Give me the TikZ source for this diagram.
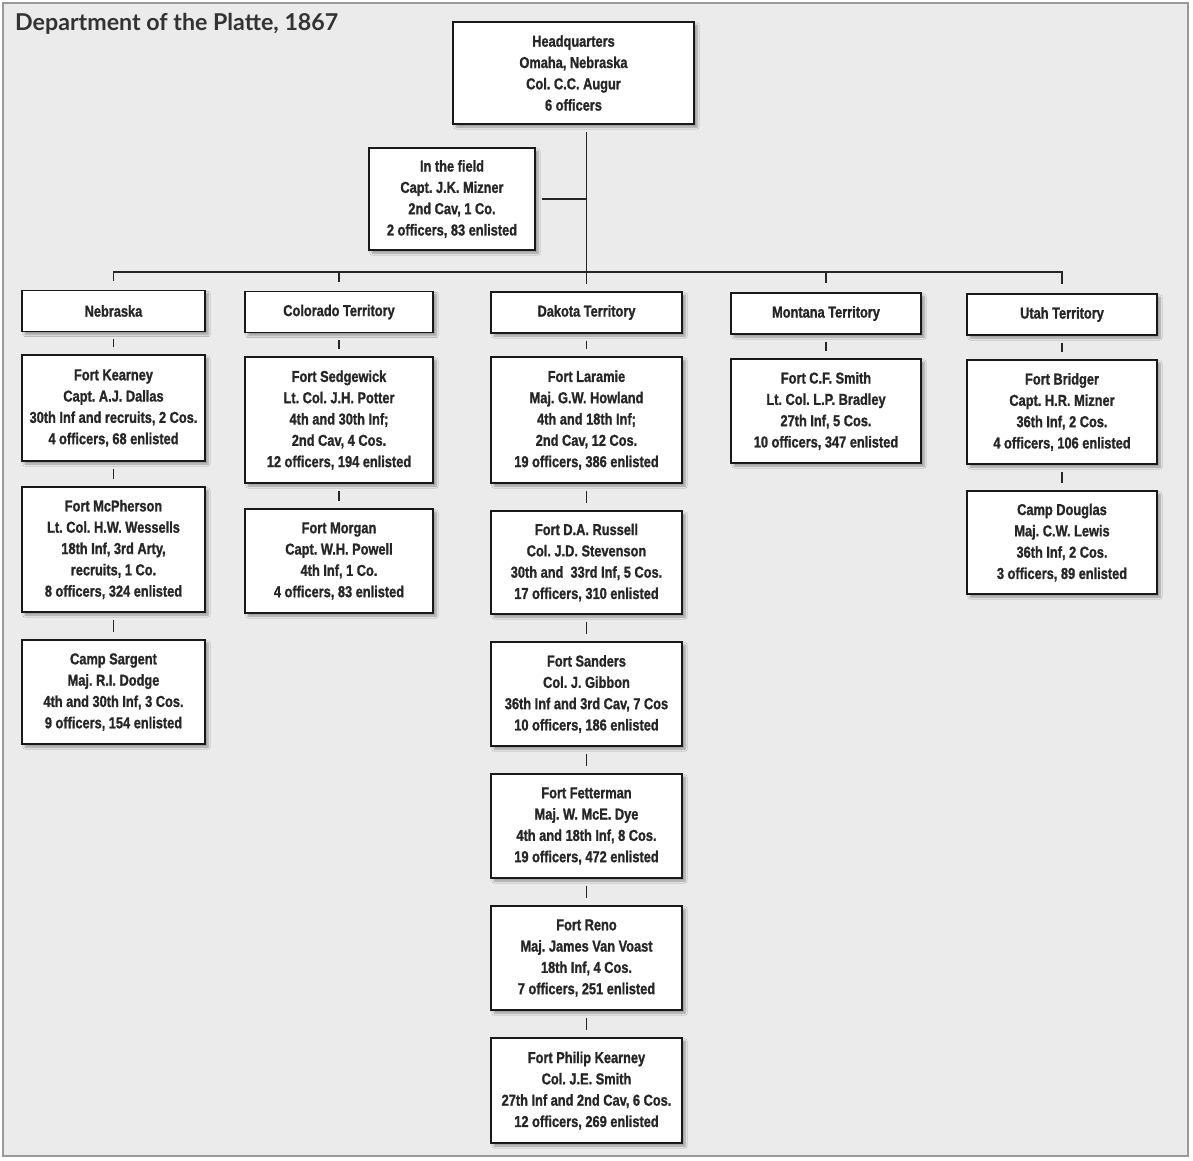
\documentclass[tikz,border=0pt]{standalone}
\usepackage{fontspec}
\setmainfont{Liberation Sans}[FakeStretch=0.8]
\newfontfamily\boxface{Liberation Sans}[FakeStretch=0.81, FakeBold=1.2, UprightFont=* Bold]
\newfontfamily\titlefont{Lato}
\usetikzlibrary{shadows.blur}
\newcommand\boxfont{\boxface\fontsize{15.8}{21.3}\selectfont}
\frenchspacing

\begin{document}
\begin{tikzpicture}[x=1pt,y=-1pt,
  unit/.style={draw=black!90, line width=1.7pt, fill=white, align=center,
    text=black!85, font=\boxfont, inner sep=0pt,
    blur shadow={shadow xshift=3pt, shadow yshift=-3pt, shadow blur steps=6, shadow opacity=35}},
  conn/.style={draw=black!85, line width=1.8pt},
  tick/.style={conn, shorten <=7pt, shorten >=7pt}]

% page and panel
\useasboundingbox (0,0) rectangle (1193,1160);
\fill[white] (0,0) rectangle (1193,1160);
\draw[fill=black!8, draw=black!40, line width=1.5pt] (3,3) rectangle (1188,1156);

\node[anchor=base west, inner sep=0pt, font=\titlefont\bfseries\fontsize{23.2}{27}\selectfont, text=black!80]
  (title) at (15,30) {Department of the Platte, 1867};

% headquarters and field command
\node[unit, minimum width=241pt, minimum height=102pt] (hq) at (573.5,73)
  {Headquarters\\Omaha, Nebraska\\Col. C.C. Augur\\6 officers};
\node[unit, minimum width=166pt, minimum height=102pt] (field) at (452,199)
  {In the field\\Capt. J.K. Mizner\\2nd Cav, 1 Co.\\2 officers, 83 enlisted};

% territories
\node[unit, minimum width=183pt, minimum height=41pt] (neb) at (113.5,311) {Nebraska};
\node[unit, minimum width=188pt, minimum height=41pt] (col) at (339,312) {Colorado Territory};
\node[unit, minimum width=191pt, minimum height=41pt] (dak) at (586.5,312.5) {Dakota Territory};
\node[unit, minimum width=190pt, minimum height=41pt] (mon) at (826,313.5) {Montana Territory};
\node[unit, minimum width=190pt, minimum height=41pt] (uta) at (1062,314.5) {Utah Territory};

% Nebraska posts
\node[unit, minimum width=183pt, minimum height=106pt] (kea) at (113.5,408)
  {Fort Kearney\\Capt. A.J. Dallas\\30th Inf and recruits, 2 Cos.\\4 officers, 68 enlisted};
\node[unit, minimum width=183pt, minimum height=125pt] (mcp) at (113.5,549.5)
  {Fort McPherson\\Lt. Col. H.W. Wessells\\18th Inf, 3rd Arty,\\recruits, 1 Co.\\8 officers, 324 enlisted};
\node[unit, minimum width=183pt, minimum height=104pt] (sar) at (113.5,692)
  {Camp Sargent\\Maj. R.I. Dodge\\4th and 30th Inf, 3 Cos.\\9 officers, 154 enlisted};

% Colorado posts
\node[unit, minimum width=188pt, minimum height=126pt] (sed) at (339,420)
  {Fort Sedgewick\\Lt. Col. J.H. Potter\\4th and 30th Inf;\\2nd Cav, 4 Cos.\\12 officers, 194 enlisted};
\node[unit, minimum width=188pt, minimum height=104pt] (mor) at (339,561)
  {Fort Morgan\\Capt. W.H. Powell\\4th Inf, 1 Co.\\4 officers, 83 enlisted};

% Dakota posts
\node[unit, minimum width=191pt, minimum height=126pt] (lar) at (586.5,420)
  {Fort Laramie\\Maj. G.W. Howland\\4th and 18th Inf;\\2nd Cav, 12 Cos.\\19 officers, 386 enlisted};
\node[unit, minimum width=191pt, minimum height=103pt] (rus) at (586.5,562.5)
  {Fort D.A. Russell\\Col. J.D. Stevenson\\30th and~~33rd Inf, 5 Cos.\\17 officers, 310 enlisted};
\node[unit, minimum width=191pt, minimum height=104pt] (san) at (586.5,694)
  {Fort Sanders\\Col. J. Gibbon\\36th Inf and 3rd Cav, 7 Cos\\10 officers, 186 enlisted};
\node[unit, minimum width=191pt, minimum height=104pt] (fet) at (586.5,826)
  {Fort Fetterman\\Maj. W. McE. Dye\\4th and 18th Inf, 8 Cos.\\19 officers, 472 enlisted};
\node[unit, minimum width=191pt, minimum height=104pt] (ren) at (586.5,958)
  {Fort Reno\\Maj. James Van Voast\\18th Inf, 4 Cos.\\7 officers, 251 enlisted};
\node[unit, minimum width=191pt, minimum height=105pt] (phk) at (586.5,1090.5)
  {Fort Philip Kearney\\Col. J.E. Smith\\27th Inf and 2nd Cav, 6 Cos.\\12 officers, 269 enlisted};

% Montana post
\node[unit, minimum width=190pt, minimum height=104pt] (cfs) at (826,411)
  {Fort C.F. Smith\\Lt. Col. L.P. Bradley\\27th Inf, 5 Cos.\\10 officers, 347 enlisted};

% Utah posts
\node[unit, minimum width=190pt, minimum height=104pt] (bri) at (1062,412)
  {Fort Bridger\\Capt. H.R. Mizner\\36th Inf, 2 Cos.\\4 officers, 106 enlisted};
\node[unit, minimum width=190pt, minimum height=103pt] (dou) at (1062,542.5)
  {Camp Douglas\\Maj. C.W. Lewis\\36th Inf, 2 Cos.\\3 officers, 89 enlisted};

% trunk, field stub and territory bus
\coordinate (bus) at (585,272);
\draw[conn] ([yshift=-7pt]hq.south -| dak.north) -- ([yshift=7pt]dak.north);
\draw[conn] ([xshift=6pt]field.east) -- (field.east -| dak.north);
\draw[conn] ([yshift=9pt]neb.north) -- (neb.north |- bus) -- (uta.north |- bus) -- ([yshift=9pt]uta.north);
\draw[conn] (col.north |- bus) -- ([yshift=9pt]col.north);
\draw[conn] (mon.north |- bus) -- ([yshift=9pt]mon.north);

% short ticks between stacked boxes
\foreach \a/\b in {neb/kea, kea/mcp, mcp/sar, col/sed, sed/mor,
                   dak/lar, lar/rus, rus/san, san/fet, fet/ren, ren/phk,
                   mon/cfs, uta/bri, bri/dou}
  \draw[tick] (\a.south) -- (\b.north);
\end{tikzpicture}
\end{document}
